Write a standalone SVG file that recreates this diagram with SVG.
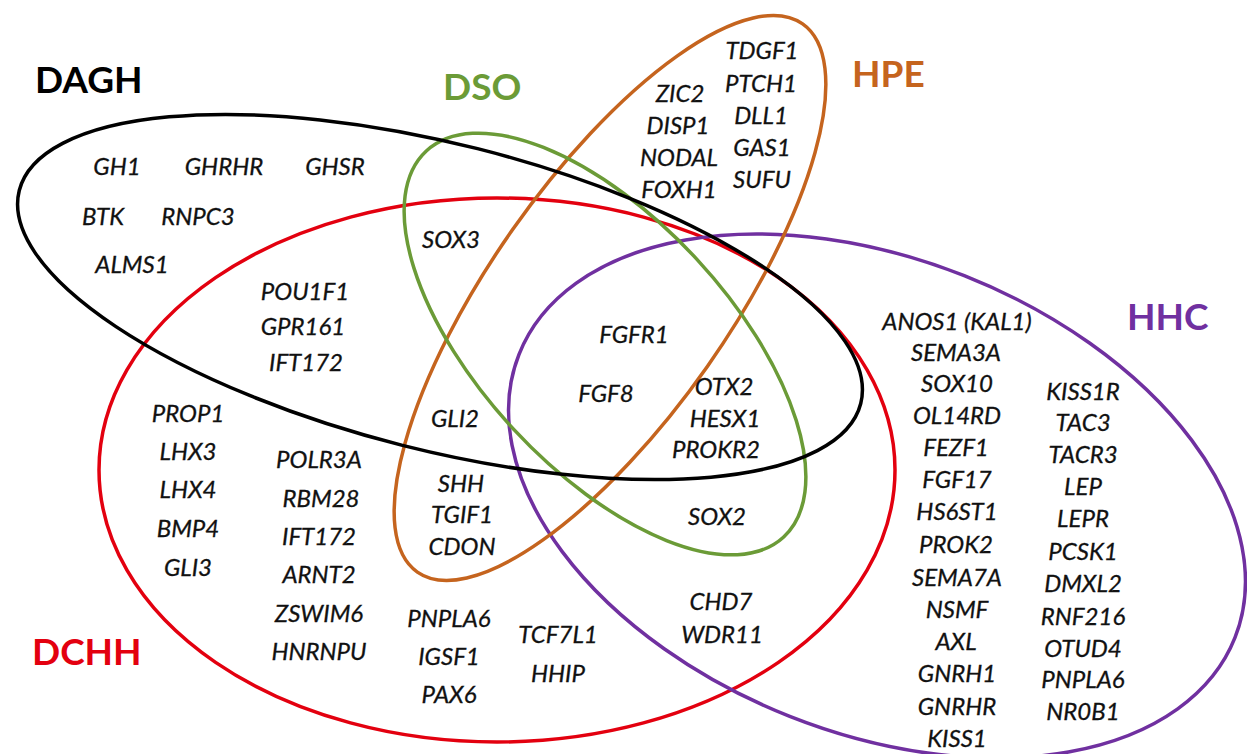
<svg xmlns="http://www.w3.org/2000/svg" width="1247" height="754" viewBox="0 0 1247 754">
<style>
.set{fill:none;stroke-width:3.5}
.g{font-family:Lato,"Open Sans","Liberation Sans",sans-serif;font-style:italic;font-size:24px;fill:#111;stroke:#111;stroke-width:0.3;text-anchor:middle}
.lab{font-family:Lato,"Open Sans","Liberation Sans",sans-serif;font-weight:bold;font-size:37px}
</style>
<rect width="1247" height="754" fill="#fff"/>
<g id="connectors">
<ellipse id="e-dchh" class="set" cx="497" cy="470" rx="398" ry="272" stroke="#E3000F"/>
<ellipse id="e-hhc" class="set" cx="877" cy="496" rx="385" ry="237" transform="rotate(21.6 877 496)" stroke="#7030A0"/>
<ellipse id="e-hpe" class="set" cx="610" cy="298" rx="335" ry="119" transform="rotate(-54.9 610 298)" stroke="#C5641E"/>
<ellipse id="e-dso" class="set" cx="605" cy="344" rx="263" ry="125" transform="rotate(47.2 605 344)" stroke="#6B9B37"/>
<ellipse id="e-dagh" class="set" cx="440" cy="297" rx="434" ry="153" transform="rotate(14.2 440 297)" stroke="#000" stroke-width="4"/>
</g>
<g id="DAGH">
<text class="lab" x="35" y="93" fill="#000">DAGH</text>
<text class="g" x="117" y="175">GH1</text>
<text class="g" x="224" y="175">GHRHR</text>
<text class="g" x="335" y="175">GHSR</text>
<text class="g" x="103" y="225">BTK</text>
<text class="g" x="198" y="225">RNPC3</text>
<text class="g" x="132" y="273">ALMS1</text>
</g>
<g id="DSO">
<text class="lab" x="443" y="100" fill="#6B9B37">DSO</text>
<text class="g" x="451" y="248">SOX3</text>
</g>
<g id="HPE">
<text class="lab" x="852" y="87" fill="#C5641E">HPE</text>
<text class="g" x="680" y="102">ZIC2</text>
<text class="g" x="678" y="134">DISP1</text>
<text class="g" x="679" y="166">NODAL</text>
<text class="g" x="679" y="198">FOXH1</text>
<text class="g" x="762" y="59">TDGF1</text>
<text class="g" x="761" y="92">PTCH1</text>
<text class="g" x="761" y="124">DLL1</text>
<text class="g" x="762" y="156">GAS1</text>
<text class="g" x="762" y="188">SUFU</text>
</g>
<g id="DAGH-DCHH">
<text class="g" x="305" y="300">POU1F1</text>
<text class="g" x="303" y="335">GPR161</text>
<text class="g" x="306" y="371">IFT172</text>
</g>
<g id="center">
<text class="g" x="634" y="343">FGFR1</text>
<text class="g" x="606" y="402">FGF8</text>
<text class="g" x="724" y="395">OTX2</text>
<text class="g" x="725" y="427">HESX1</text>
<text class="g" x="716" y="458">PROKR2</text>
<text class="g" x="455" y="427">GLI2</text>
<text class="g" x="461" y="492">SHH</text>
<text class="g" x="462" y="523">TGIF1</text>
<text class="g" x="462" y="555">CDON</text>
<text class="g" x="717" y="525">SOX2</text>
<text class="g" x="721" y="610">CHD7</text>
<text class="g" x="722" y="643">WDR11</text>
</g>
<g id="DCHH">
<text class="lab" x="32" y="665" fill="#E3000F">DCHH</text>
<text class="g" x="188" y="422">PROP1</text>
<text class="g" x="188" y="460">LHX3</text>
<text class="g" x="188" y="498">LHX4</text>
<text class="g" x="188" y="537">BMP4</text>
<text class="g" x="188" y="576">GLI3</text>
<text class="g" x="319" y="468">POLR3A</text>
<text class="g" x="321" y="507">RBM28</text>
<text class="g" x="319" y="545">IFT172</text>
<text class="g" x="319" y="583">ARNT2</text>
<text class="g" x="319" y="622">ZSWIM6</text>
<text class="g" x="319" y="660">HNRNPU</text>
<text class="g" x="449" y="627">PNPLA6</text>
<text class="g" x="449" y="665">IGSF1</text>
<text class="g" x="449" y="703">PAX6</text>
<text class="g" x="558" y="643">TCF7L1</text>
<text class="g" x="558" y="682">HHIP</text>
</g>
<g id="HHC">
<text class="lab" x="1127" y="330" fill="#7030A0">HHC</text>
<text class="g" x="957" y="330">ANOS1 (KAL1)</text>
<text class="g" x="956" y="361">SEMA3A</text>
<text class="g" x="957" y="392">SOX10</text>
<text class="g" x="957" y="424">OL14RD</text>
<text class="g" x="956" y="456">FEZF1</text>
<text class="g" x="957" y="488">FGF17</text>
<text class="g" x="957" y="520">HS6ST1</text>
<text class="g" x="956" y="553">PROK2</text>
<text class="g" x="957" y="586">SEMA7A</text>
<text class="g" x="957" y="618">NSMF</text>
<text class="g" x="956" y="650">AXL</text>
<text class="g" x="957" y="682">GNRH1</text>
<text class="g" x="957" y="715">GNRHR</text>
<text class="g" x="957" y="747">KISS1</text>
<text class="g" x="1083" y="400">KISS1R</text>
<text class="g" x="1083" y="431">TAC3</text>
<text class="g" x="1083" y="463">TACR3</text>
<text class="g" x="1083" y="495">LEP</text>
<text class="g" x="1083" y="527">LEPR</text>
<text class="g" x="1083" y="560">PCSK1</text>
<text class="g" x="1083" y="592">DMXL2</text>
<text class="g" x="1083" y="625">RNF216</text>
<text class="g" x="1083" y="657">OTUD4</text>
<text class="g" x="1083" y="688">PNPLA6</text>
<text class="g" x="1083" y="720">NR0B1</text>
</g>
</svg>
